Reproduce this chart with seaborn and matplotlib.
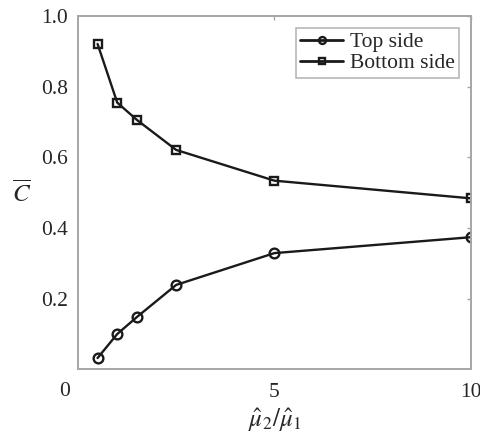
import matplotlib
matplotlib.use("Agg")
import matplotlib.pyplot as plt
import seaborn as sns
import pandas as pd

ratio = [0.5, 1.0, 1.5, 2.5, 5.0, 10.0]
top_side = [0.032, 0.100, 0.148, 0.239, 0.329, 0.374]
bottom_side = [0.921, 0.755, 0.706, 0.621, 0.534, 0.484]
series_names = ["Top side", "Bottom side"]
x_ticks = [5, 10]
y_ticks = [0.2, 0.4, 0.6, 0.8, 1.0]

df = pd.DataFrame({
    "ratio": ratio * 2,
    "C": top_side + bottom_side,
    "side": [series_names[0]] * len(ratio) + [series_names[1]] * len(ratio),
})

sns.set_style("white")
plt.rcParams["font.family"] = ["Liberation Serif", "DejaVu Serif"]
plt.rcParams["mathtext.fontset"] = "stix"

frame_col = "#a6a6a6"
ink = "#1a1a1a"
fig, ax = plt.subplots(figsize=(4.81, 4.33), dpi=100)
fig.subplots_adjust(left=0.162, right=0.979, top=0.963, bottom=0.147)

sns.lineplot(data=df, x="ratio", y="C", hue="side", style="side",
             palette=[ink, ink], markers=["o", "s"], dashes=False,
             linewidth=1.7, markersize=7, markeredgewidth=1.7,
             markerfacecolor="none", markeredgecolor=ink, ax=ax)
# keep the markers hollow
for line in ax.lines:
    line.set_markerfacecolor("none")
    line.set_markeredgecolor(ink)
ax.lines[1].set_markersize(6)

ax.set_xlim(0, 10)
ax.set_ylim(0, 1.0)
ax.set_xticks(x_ticks)
ax.set_xticklabels([str(t) for t in x_ticks])
ax.set_yticks(y_ticks)
ax.set_yticklabels([f"{t:.1f}" for t in y_ticks])
ax.tick_params(direction="in", length=3, width=1, color=frame_col,
               labelsize=15.5, top=True, right=True, pad=7)
ax.tick_params(axis="x", pad=10)
for s in ax.spines.values():
    s.set_color(frame_col)
    s.set_linewidth(1.4)

ax.text(-0.033, -0.064, "0", transform=ax.transAxes, ha="center", va="center",
        fontsize=15.5)

ax.set_xlabel(r"$\hat{\mu}_2/\hat{\mu}_1$", fontsize=18, labelpad=3)
ax.set_ylabel(r"$\overline{C}$", fontsize=18, rotation=0, labelpad=14, va="center")

handles, labels = ax.get_legend_handles_labels()
for h in handles:
    h.set_markerfacecolor("none")
    h.set_markeredgecolor(ink)
    h.set_markersize(5)
    h.set_linewidth(2)
leg = ax.legend(handles, labels, loc="upper right", fontsize=15.5, frameon=True,
                fancybox=False, edgecolor=frame_col, handlelength=2.0,
                handletextpad=0.3, borderpad=0.2, labelspacing=0.05,
                borderaxespad=0.55, title=None)
leg.get_frame().set_linewidth(1.2)

fig.savefig("out.png", dpi=100)
